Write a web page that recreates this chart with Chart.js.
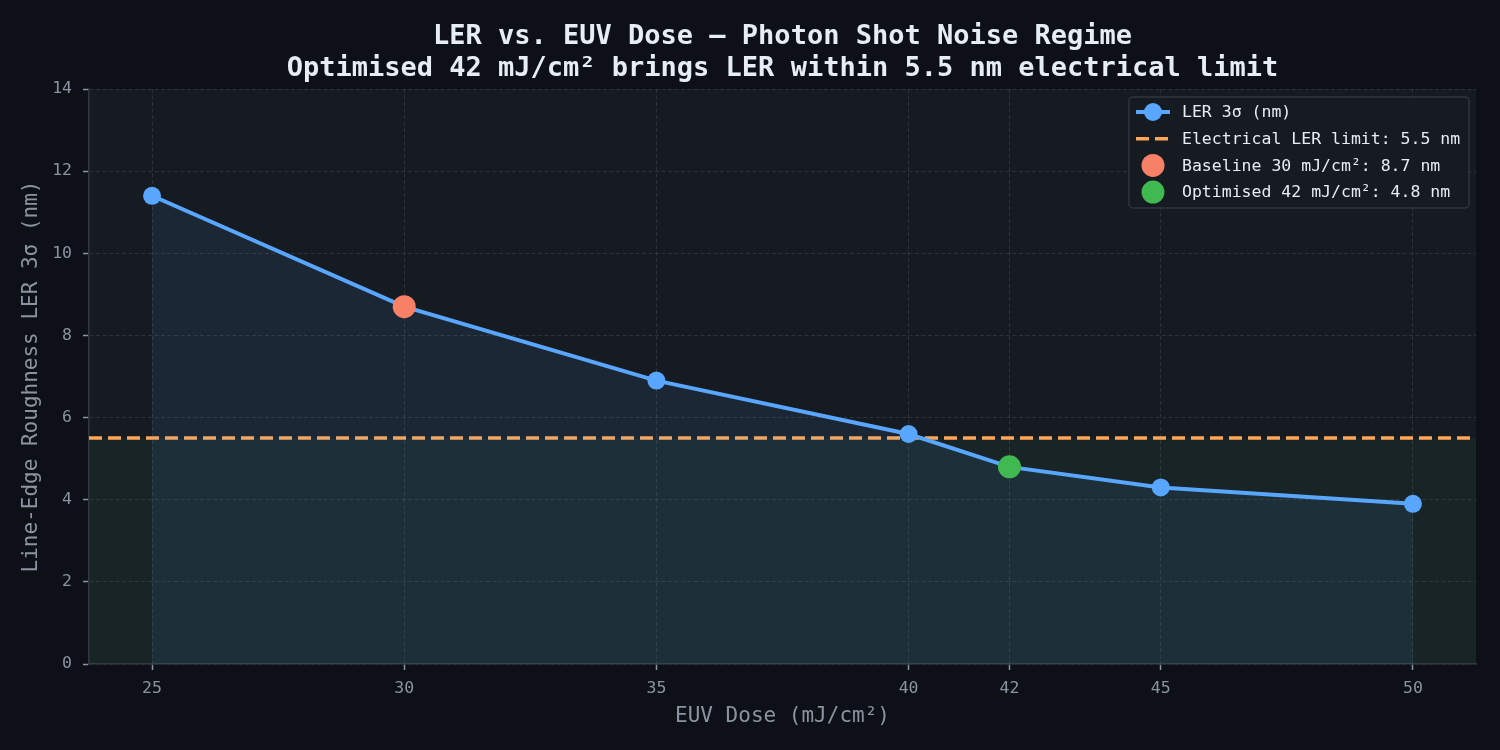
<!DOCTYPE html>
<html><head><meta charset="utf-8">
<script src="https://cdn.jsdelivr.net/npm/chart.js@4.4.1/dist/chart.umd.min.js"></script>
<style>html,body{margin:0;padding:0;background:#0d1117;}canvas{display:block;}</style>
</head><body>
<canvas id="c" width="1500" height="750" style="width:1500px;height:750px"></canvas>
<script>
// ---- data ----
const doses = [25, 30, 35, 40, 42, 45, 50];
const lerValues = [11.4, 8.7, 6.9, 5.6, 4.8, 4.3, 3.9];
const xTicks = [25, 30, 35, 40, 42, 45, 50];
const yTicks = [0, 2, 4, 6, 8, 10, 12, 14];
const lerLimit = 5.5;
const baselinePoint = [30, 8.7];
const optimisedPoint = [42, 4.8];
const xMin = 23.75, xMax = 51.25, yMin = 0, yMax = 14;

const FONT = "'DejaVu Sans Mono', monospace";
const C = {
  page: '#0d1117', plot: '#161b22', grid: 'rgba(110,118,129,0.25)', spine: '#30363d',
  tick: '#8b949e', text: '#e6edf3', blue: '#58a6ff', orange: '#ffa657',
  red: '#f78166', green: '#3fb950'
};

const bgPlugin = {
  id: 'bg',
  beforeDraw(chart) {
    const {ctx, chartArea: a} = chart;
    ctx.save();
    ctx.fillStyle = C.page;
    ctx.fillRect(0, 0, chart.width, chart.height);
    ctx.fillStyle = C.plot;
    ctx.fillRect(a.left, a.top, a.right - a.left, a.bottom - a.top);
    ctx.restore();
  }
};

const legendPlugin = {
  id: 'customLegend',
  afterDraw(chart) {
    const {ctx} = chart;
    const x0 = 1129, y0 = 97, w = 340, h = 111, rowH = 26.7, firstRow = 112;
    ctx.save();
    ctx.beginPath();
    ctx.roundRect(x0, y0, w, h, 4);
    ctx.fillStyle = 'rgba(22,27,34,0.92)';
    ctx.fill();
    ctx.lineWidth = 1.5;
    ctx.strokeStyle = C.spine;
    ctx.stroke();
    ctx.font = '16.5px ' + FONT;
    ctx.textBaseline = 'middle';
    chart.data.datasets.forEach((ds, i) => {
      const y = firstRow + i * rowH;
      const hx0 = 1136, hx1 = 1170, hc = 1153;
      if (ds.legendKind === 'line' || ds.legendKind === 'dash') {
        ctx.beginPath();
        ctx.setLineDash(ds.legendKind === 'dash' ? [13, 6] : []);
        ctx.lineWidth = ds.borderWidth;
        ctx.strokeStyle = ds.borderColor;
        ctx.moveTo(hx0, y); ctx.lineTo(hx1, y);
        ctx.stroke();
        ctx.setLineDash([]);
      }
      if (ds.legendKind === 'line' || ds.legendKind === 'marker') {
        ctx.beginPath();
        ctx.arc(hc, y, ds.legendKind === 'line' ? 9 : 11.5, 0, Math.PI * 2);
        ctx.fillStyle = ds.pointBackgroundColor;
        ctx.fill();
      }
      ctx.fillStyle = C.text;
      ctx.fillText(ds.label, 1182, y + 1);
    });
    ctx.restore();
  }
};

const xy = (xs, ys) => xs.map((x, i) => ({x, y: ys[i]}));

const gridOpts = {color: C.grid, lineWidth: 1, tickColor: C.tick,
                  tickLength: 6, tickWidth: 1.5, tickBorderDash: []};
const borderOpts = {color: C.spine, width: 1.5, dash: [4, 2.5]};

new Chart(document.getElementById('c'), {
  type: 'scatter',
  data: {
    datasets: [
      {
        type: 'line', label: 'LER 3σ (nm)', legendKind: 'line',
        data: xy(doses, lerValues),
        borderColor: C.blue, borderWidth: 4,
        pointRadius: 9, pointHoverRadius: 9, pointBorderWidth: 0,
        pointBackgroundColor: C.blue,
        fill: 'origin', backgroundColor: 'rgba(88,166,255,0.09)',
        tension: 0, order: 2
      },
      {
        type: 'line', label: 'Electrical LER limit: ' + lerLimit + ' nm', legendKind: 'dash',
        data: [{x: xMin, y: lerLimit}, {x: xMax, y: lerLimit}],
        borderColor: C.orange, borderWidth: 3.5, borderDash: [13, 6],
        pointRadius: 0, fill: 'origin', backgroundColor: 'rgba(63,185,80,0.06)',
        order: 3
      },
      {
        label: 'Baseline ' + baselinePoint[0] + ' mJ/cm²: ' + baselinePoint[1] + ' nm', legendKind: 'marker',
        data: [{x: baselinePoint[0], y: baselinePoint[1]}],
        pointRadius: 11.5, pointHoverRadius: 11.5, pointBorderWidth: 0,
        pointBackgroundColor: C.red, backgroundColor: C.red, order: 0
      },
      {
        label: 'Optimised ' + optimisedPoint[0] + ' mJ/cm²: ' + optimisedPoint[1] + ' nm', legendKind: 'marker',
        data: [{x: optimisedPoint[0], y: optimisedPoint[1]}],
        pointRadius: 11.5, pointHoverRadius: 11.5, pointBorderWidth: 0,
        pointBackgroundColor: C.green, backgroundColor: C.green, order: 0
      }
    ]
  },
  options: {
    responsive: false, animation: false,
    layout: {padding: {left: 0, right: 24, top: 0, bottom: 0}},
    plugins: {
      legend: {display: false},
      tooltip: {enabled: false},
      title: {
        display: true, fullSize: false,
        text: ['LER vs. EUV Dose — Photon Shot Noise Regime',
               'Optimised 42 mJ/cm² brings LER within 5.5 nm electrical limit'],
        color: C.text,
        font: {family: FONT, size: 27, weight: 'bold', lineHeight: 32 / 27},
        padding: {top: 21, bottom: 4}
      }
    },
    scales: {
      x: {
        type: 'linear', min: xMin, max: xMax,
        afterBuildTicks: s => { s.ticks = xTicks.map(v => ({value: v})); },
        afterFit: s => { s.height = 86; },
        ticks: {color: C.tick, font: {family: FONT, size: 16.5}, padding: 9, maxRotation: 0,
                callback: v => String(v)},
        grid: gridOpts,
        border: borderOpts,
        title: {display: true, text: 'EUV Dose (mJ/cm²)', color: C.tick,
                font: {family: FONT, size: 21, lineHeight: 1.2}, padding: {top: 0, bottom: 21}}
      },
      y: {
        type: 'linear', min: yMin, max: yMax,
        afterBuildTicks: s => { s.ticks = yTicks.map(v => ({value: v})); },
        afterFit: s => { s.width = 89; },
        ticks: {color: C.tick, font: {family: FONT, size: 16.5}, padding: 11,
                callback: v => String(v)},
        grid: gridOpts,
        border: borderOpts,
        title: {display: true, text: 'Line-Edge Roughness LER 3σ (nm)', color: C.tick,
                font: {family: FONT, size: 21, lineHeight: 1.2}, padding: {top: 19, bottom: 0}}
      }
    }
  },
  plugins: [bgPlugin, legendPlugin]
});
</script>
</body></html>
